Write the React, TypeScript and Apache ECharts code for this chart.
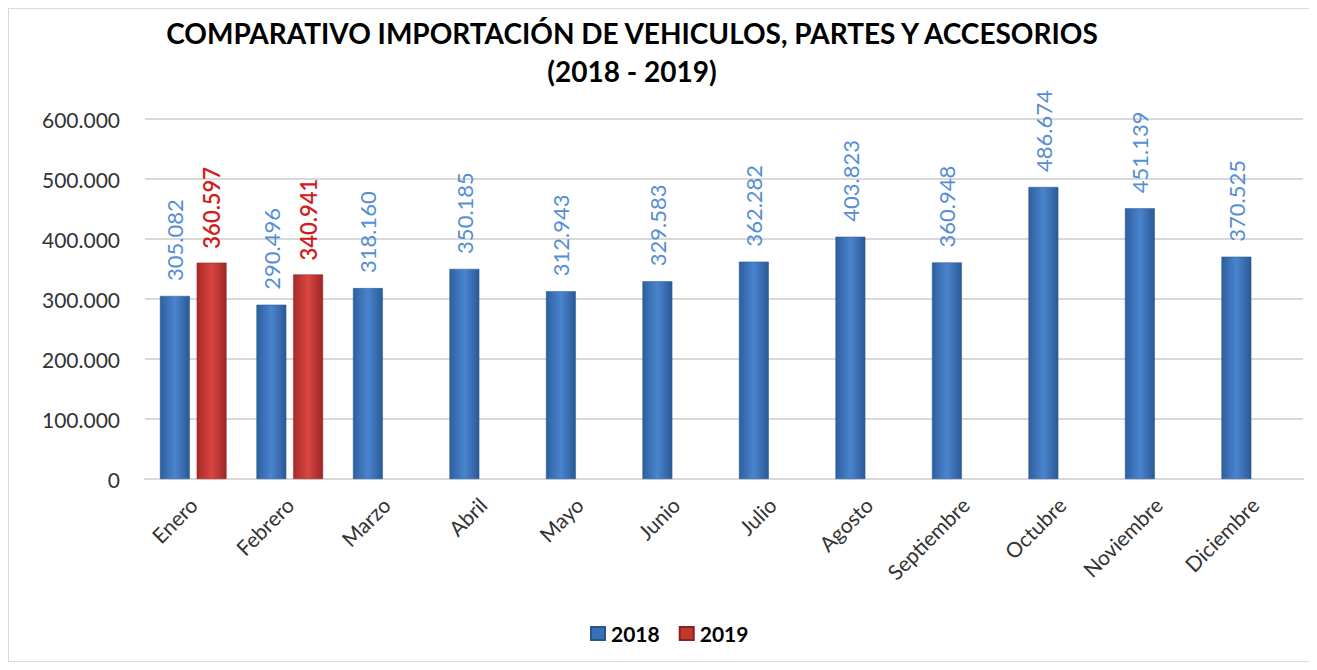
import React, { useEffect, useRef } from "react";
import * as echarts from "echarts";

const months = ["Enero", "Febrero", "Marzo", "Abril", "Mayo", "Junio", "Julio", "Agosto", "Septiembre", "Octubre", "Noviembre", "Diciembre"];
const values2018 = [305082, 290496, 318160, 350185, 312943, 329583, 362282, 403823, 360948, 486674, 451139, 370525];
const values2019: (number | null)[] = [360597, 340941, null, null, null, null, null, null, null, null, null, null];

const fmt = (v: number) => v.toString().replace(/\B(?=(\d{3})+(?!\d))/g, ".");
const FONT = "Lato, 'Open Sans', sans-serif";

export default function App() {
  const ref = useRef<HTMLDivElement>(null);
  useEffect(() => {
    if (!ref.current) return;
    const chart = echarts.init(ref.current, undefined, { renderer: "svg" });
    const blueGrad = new echarts.graphic.LinearGradient(0, 0, 1, 0, [
      { offset: 0, color: "#2d5f9e" },
      { offset: 0.5, color: "#4a84cf" },
      { offset: 1, color: "#2a5a96" },
    ]);
    const redGrad = new echarts.graphic.LinearGradient(0, 0, 1, 0, [
      { offset: 0, color: "#a82a28" },
      { offset: 0.5, color: "#d94542" },
      { offset: 1, color: "#9e2624" },
    ]);
    chart.setOption({
      animation: false,
      title: {
        text: "COMPARATIVO IMPORTACIÓN DE VEHICULOS, PARTES Y ACCESORIOS\n(2018 - 2019)",
        left: 618,
        textAlign: "center",
        top: 0,
        textStyle: { fontFamily: FONT, fontWeight: "bold", fontSize: 28, color: "#000", lineHeight: 38 },
      },
      legend: {
        bottom: 12,
        left: 576,
        itemWidth: 14,
        itemHeight: 13,
        itemGap: 19,
        icon: "rect",
        textStyle: { fontFamily: FONT, fontWeight: "bold", fontSize: 21, color: "#000", padding: [0, 0, 0, 1] },
        data: [
          { name: "2018", itemStyle: { color: "#3a70b5" } },
          { name: "2019", itemStyle: { color: "#c0392b" } },
        ],
      },
      grid: { left: 136, right: 7, top: 110, bottom: 182, containLabel: false },
      xAxis: {
        type: "category",
        data: months,
        axisTick: { show: false },
        axisLine: { lineStyle: { color: "#d9d9d9", width: 2 } },
        axisLabel: { rotate: 45, fontFamily: FONT, fontSize: 21, color: "#333", margin: 22, interval: 0 },
      },
      yAxis: {
        type: "value",
        min: 0,
        max: 600000,
        interval: 100000,
        axisLine: { show: false },
        axisTick: { show: false },
        splitLine: { lineStyle: { color: "#d9d9d9", width: 2 } },
        axisLabel: { formatter: (v: number) => fmt(v), fontFamily: FONT, fontSize: 21, color: "#333", margin: 25 },
      },
      series: [
        {
          name: "2018",
          type: "bar",
          data: values2018,
          barGap: "23%",
          barCategoryGap: "31%",
          itemStyle: { color: blueGrad, borderColor: "#2a558c", borderWidth: 0.5 },
          label: {
            show: true,
            position: "top",
            rotate: 90,
            align: "left",
            verticalAlign: "middle",
            distance: 15,
            formatter: (p: any) => fmt(p.value),
            fontFamily: FONT,
            fontSize: 22,
            color: "#558ed5",
          },
        },
        {
          name: "2019",
          type: "bar",
          data: values2019,
          itemStyle: { color: redGrad, borderColor: "#8c2220", borderWidth: 0.5 },
          label: {
            show: true,
            position: "top",
            rotate: 90,
            align: "left",
            verticalAlign: "middle",
            distance: 14,
            formatter: (p: any) => (p.value == null ? "" : fmt(p.value)),
            fontFamily: FONT,
            fontSize: 22,
            fontWeight: 600,
            color: "#d0201c",
          },
        },
      ],
    });
    return () => chart.dispose();
  }, []);
  return (
    <div
      ref={ref}
      style={{ width: 1303, height: 654, border: "1px solid #d9d9d9", boxSizing: "border-box", background: "#fff" }}
    />
  );
}
